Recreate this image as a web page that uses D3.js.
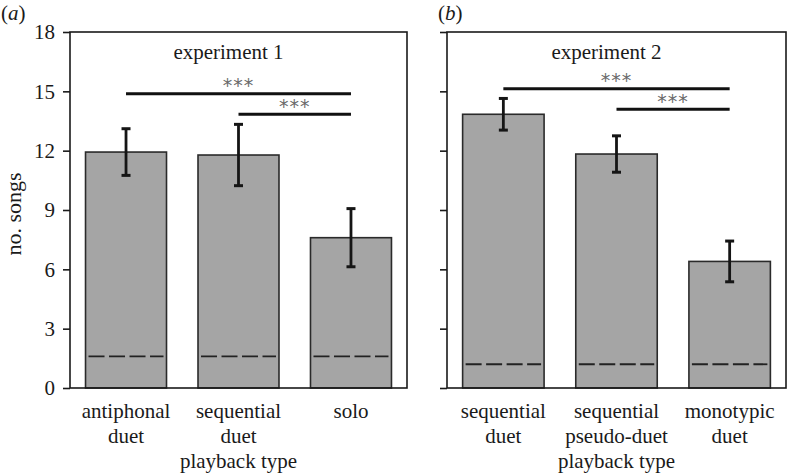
<!DOCTYPE html>
<html>
<head>
<meta charset="utf-8">
<script src="https://cdn.jsdelivr.net/npm/d3@7"></script>
<style>
body { margin: 0; background: #fff; }
svg { display: block; }
text { font-family: "Liberation Serif", "Times New Roman", serif; fill: #1a1a1a; }
</style>
</head>
<body>
<svg id="chart" width="788" height="475"></svg>
<script>
// ---- data ----
const yTicks = [0, 3, 6, 9, 12, 15, 18];

const expA_labels = [["antiphonal", "duet"], ["sequential", "duet"], ["solo"]];
const expA_means = [11.93, 11.78, 7.60];
const expA_err = [1.18, 1.55, 1.47];
const expA_chance = 1.6;
const expA_sig = [[0, 2, 14.88], [1, 2, 13.84]];

const expB_labels = [["sequential", "duet"], ["sequential", "pseudo-duet"], ["monotypic", "duet"]];
const expB_means = [13.84, 11.83, 6.40];
const expB_err = [0.80, 0.92, 1.03];
const expB_chance = 1.2;
const expB_sig = [[0, 2, 15.13], [1, 2, 14.09]];

const panels = [
  { tag: "a", title: "experiment 1", labels: expA_labels, means: expA_means, err: expA_err,
    chance: expA_chance, sig: expA_sig, x0: 70, x1: 407, showTickLabels: true, titleDx: -10 },
  { tag: "b", title: "experiment 2", labels: expB_labels, means: expB_means, err: expB_err,
    chance: expB_chance, sig: expB_sig, x0: 447, x1: 786, showTickLabels: false, titleDx: -10 }
];

const svg = d3.select("#chart");
const plotTop = 32, plotBottom = 388;
const y = d3.scaleLinear().domain([0, 18]).range([plotBottom, plotTop]);
const FS = 21;

panels.forEach(p => {
  const g = svg.append("g");
  const x = d3.scaleBand().domain(d3.range(p.labels.length))
    .range([p.x0, p.x1]).paddingInner(0.28).paddingOuter(0.138);

  // bars
  g.selectAll("rect.bar").data(p.means).join("rect")
    .attr("class", "bar")
    .attr("x", (d, i) => x(i))
    .attr("width", x.bandwidth())
    .attr("y", d => y(d))
    .attr("height", d => y(0) - y(d))
    .attr("fill", "#a5a5a5")
    .attr("stroke", "#2a2a2a")
    .attr("stroke-width", 1.6);

  // chance dashed lines
  g.selectAll("line.chance").data(p.means).join("line")
    .attr("class", "chance")
    .attr("x1", (d, i) => x(i) + 3)
    .attr("x2", (d, i) => x(i) + x.bandwidth() - 3)
    .attr("y1", y(p.chance)).attr("y2", y(p.chance))
    .attr("stroke", "#222").attr("stroke-width", 1.8)
    .attr("stroke-dasharray", "16,4.5");

  // error bars
  p.means.forEach((m, i) => {
    const cx = x(i) + x.bandwidth() / 2;
    const e = p.err[i];
    g.append("line").attr("x1", cx).attr("x2", cx)
      .attr("y1", y(m + e)).attr("y2", y(m - e))
      .attr("stroke", "#151515").attr("stroke-width", 2.8);
    [m + e, m - e].forEach(v => {
      g.append("line").attr("x1", cx - 4.5).attr("x2", cx + 4.5)
        .attr("y1", y(v)).attr("y2", y(v))
        .attr("stroke", "#151515").attr("stroke-width", 3);
    });
  });

  // frame
  g.append("rect").attr("x", p.x0).attr("y", plotTop)
    .attr("width", p.x1 - p.x0).attr("height", plotBottom - plotTop)
    .attr("fill", "none").attr("stroke", "#1a1a1a").attr("stroke-width", 1.6);

  // y axis
  const axis = d3.axisLeft(y).tickValues(yTicks).tickSize(7).tickPadding(8);
  if (!p.showTickLabels) axis.tickFormat("");
  const ag = g.append("g").attr("transform", `translate(${p.x0},0)`).call(axis);
  ag.select(".domain").remove();
  ag.selectAll(".tick line").attr("stroke", "#1a1a1a").attr("stroke-width", 1.6);
  ag.selectAll(".tick text").attr("font-size", FS)
    .style("font-family", '"Liberation Serif", serif').attr("fill", "#1a1a1a");

  // title
  g.append("text").attr("x", (p.x0 + p.x1) / 2 + p.titleDx).attr("y", 59)
    .attr("text-anchor", "middle").attr("font-size", FS).text(p.title);

  // significance bars
  p.sig.forEach(s => {
    const xa = x(s[0]) + x.bandwidth() / 2;
    const xb = x(s[1]) + x.bandwidth() / 2;
    g.append("line").attr("x1", xa).attr("x2", xb)
      .attr("y1", y(s[2])).attr("y2", y(s[2]))
      .attr("stroke", "#111").attr("stroke-width", 3);
    g.append("text").attr("x", (xa + xb) / 2).attr("y", y(s[2]) - 1.5)
      .attr("text-anchor", "middle")
      .style("font-family", '"DejaVu Sans", sans-serif')
      .attr("font-size", 19).attr("letter-spacing", 1).style("fill", "#6a6a6a")
      .text("***");
  });

  // category labels
  p.labels.forEach((lines, i) => {
    const cx = x(i) + x.bandwidth() / 2;
    lines.forEach((t, k) => {
      g.append("text").attr("x", cx).attr("y", 418 + k * 25)
        .attr("text-anchor", "middle").attr("font-size", FS).text(t);
    });
  });
  g.append("text").attr("x", x(1) + x.bandwidth() / 2).attr("y", 468)
    .attr("text-anchor", "middle").attr("font-size", FS).text("playback type");

  // panel tag
  const tg = svg.append("text").attr("x", p.x0 - (p.tag === "a" ? 69 : 9)).attr("y", 20)
    .attr("font-size", FS);
  tg.append("tspan").text("(");
  tg.append("tspan").style("font-style", "italic").text(p.tag);
  tg.append("tspan").text(")");
});

// y axis title
svg.append("text")
  .attr("transform", "translate(21,214) rotate(-90)")
  .attr("text-anchor", "middle").attr("font-size", 22)
  .text("no. songs");
</script>
</body>
</html>
